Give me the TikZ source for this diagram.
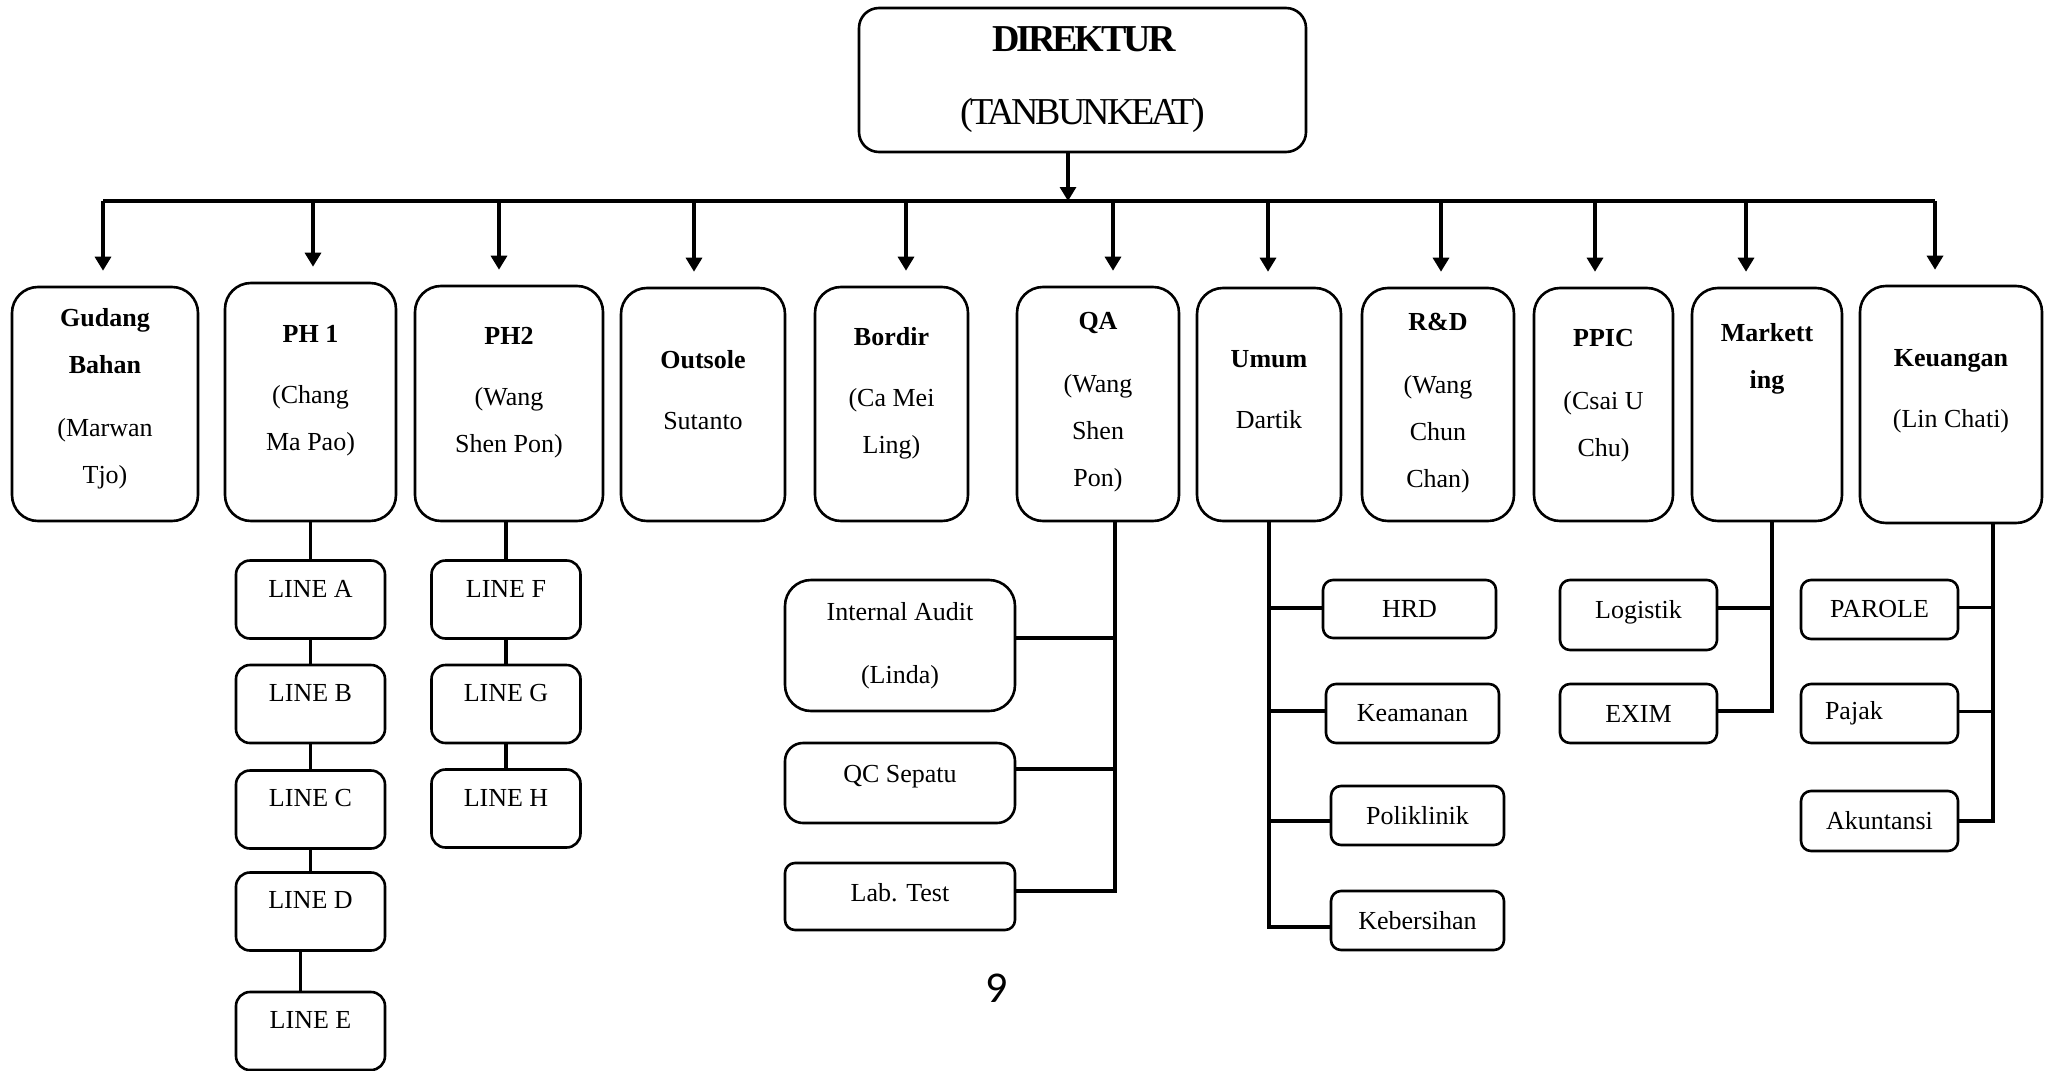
\documentclass[tikz,border=0pt]{standalone}
\usepackage{fontspec}
\setmainfont{Liberation Serif}
\newfontfamily\pagefont{Carlito}
\usetikzlibrary{arrows.meta}

\begin{document}
\begin{tikzpicture}[x=0.5pt, y=-0.5pt]
        \tikzstyle{unit}=[draw, line width=1.3pt, rounded corners=13pt, inner sep=0pt,
            font=\fontsize{13}{23.5}\selectfont, align=center]
        \tikzstyle{sub}=[unit, rounded corners=5pt]
        \tikzstyle{line box}=[unit, rounded corners=7pt, minimum width=74.5pt, minimum height=39pt]
        \tikzstyle{txt}=[font=\fontsize{13}{23.5}\selectfont, align=center, inner sep=0pt]
        \tikzstyle{link}=[line width=1.8pt]
        \tikzstyle{arr}=[line width=1.6pt, -{Triangle[length=7pt,width=8pt]}]

        \useasboundingbox (0,0) rectangle (2054,1070);

        % Draw the director
        \node[unit, rounded corners=10pt, minimum width=223.5pt, minimum height=72pt,
            font=\fontsize{19}{36.5}\selectfont\addfontfeature{LetterSpace=-8}] (dir) at (1082.5,80)
            {\textbf{DIREKTUR}\\(TANBUNKEAT)};

        % Draw the departments
        \node[unit, minimum width=93pt, minimum height=117pt,
            label={[txt,yshift=2.5pt]center:{\textbf{Gudang}\\\textbf{Bahan}\\[8pt](Marwan\\Tjo)}}] (gudang) at (105,404) {};
        \node[unit, minimum width=85.5pt, minimum height=119pt,
            label={[txt,yshift=5.5pt]center:{\textbf{PH 1}\\[7pt](Chang\\Ma Pao)}}] (ph1) at (310.5,402) {};
        \node[unit, minimum width=94pt, minimum height=117.5pt,
            label={[txt,yshift=5.5pt]center:{\textbf{PH2}\\[7pt](Wang\\Shen Pon)}}] (ph2) at (509,403.5) {};
        \node[unit, minimum width=82pt, minimum height=116.5pt,
            label={[txt,yshift=7pt]center:{\textbf{Outsole}\\[7pt]Sutanto}}] (outsole) at (703,404.5) {};
        \node[unit, minimum width=76.5pt, minimum height=117pt,
            label={[txt,yshift=5.5pt]center:{\textbf{Bordir}\\[7pt](Ca Mei\\Ling)}}] (bordir) at (891.5,404) {};
        \node[unit, minimum width=81pt, minimum height=117pt,
            label={[txt,yshift=1pt]center:{\textbf{QA}\\[8pt](Wang\\Shen\\Pon)}}] (qa) at (1098,404) {};
        \node[unit, minimum width=72pt, minimum height=116.5pt,
            label={[txt,yshift=7.5pt]center:{\textbf{Umum}\\[7pt]Dartik}}] (umum) at (1269,404.5) {};
        \node[unit, minimum width=76pt, minimum height=116.5pt,
            label={[txt,yshift=0.5pt]center:{\textbf{R\&D}\\[8pt](Wang\\Chun\\Chan)}}] (rnd) at (1438,404.5) {};
        \node[unit, minimum width=69.5pt, minimum height=116.5pt,
            label={[txt,yshift=4.5pt]center:{\textbf{PPIC}\\[8pt](Csai U\\Chu)}}] (ppic) at (1603.5,404.5) {};
        \node[unit, minimum width=75pt, minimum height=116.5pt,
            label={[txt,yshift=23pt]center:{\textbf{Markett}\\\textbf{ing}}}] (mkt) at (1767,404.5) {};
        \node[unit, minimum width=91pt, minimum height=118.5pt,
            label={[txt,yshift=6.5pt]center:{\textbf{Keuangan}\\[7pt](Lin Chati)}}] (keu) at (1951,404.5) {};

        % Draw the production lines
        \foreach \id/\y in {A/599.5, B/704, C/809.5, D/911.5, E/1031}
            \node[line box, label={[txt,yshift=5.5pt]center:LINE \id}] (L-\id) at (310.5,\y) {};
        \foreach \id/\y in {F/599.5, G/704, H/808.5}
            \node[line box, label={[txt,yshift=5.5pt]center:LINE \id}] (L-\id) at (506,\y) {};

        % Draw the QA units
        \node[unit, minimum width=115pt, minimum height=65.5pt] (ia) at (900,645.5) {Internal Audit\\[8pt](Linda)};
        \node[unit, rounded corners=9pt, minimum width=115pt, minimum height=40pt,
            label={[txt,yshift=3pt]center:QC Sepatu}] (qc) at (900,783) {};
        \node[sub, minimum width=115pt, minimum height=33.5pt,
            label={[txt,yshift=2pt]center:Lab. Test}] (lab) at (900,896.5) {};

        % Draw the general affairs units
        \node[sub, minimum width=86.5pt, minimum height=29pt] (hrd) at (1409.5,609) {HRD};
        \node[sub, minimum width=86.5pt, minimum height=29.5pt] (aman) at (1412.5,713.5) {Keamanan};
        \node[sub, minimum width=86.5pt, minimum height=29.5pt] (poli) at (1417.5,815.5) {Poliklinik};
        \node[sub, minimum width=86.5pt, minimum height=29.5pt] (bersih) at (1417.5,920.5) {Kebersihan};

        % Draw the marketing and finance units
        \node[sub, minimum width=78.5pt, minimum height=35pt,
            label={[txt,yshift=1.5pt]center:Logistik}] (logistik) at (1638.5,615) {};
        \node[sub, minimum width=78.5pt, minimum height=29.5pt] (exim) at (1638.5,713.5) {EXIM};
        \node[sub, minimum width=78.5pt, minimum height=29.5pt] (parole) at (1879.5,609.5) {PAROLE};
        \node[sub, minimum width=78.5pt, minimum height=29.5pt, text width=54.5pt, align=left] (pajak) at (1879.5,713.5) {Pajak};
        \node[sub, minimum width=78.5pt, minimum height=30pt] (akun) at (1879.5,821) {Akuntansi};

        % Connect the director with every department
        \coordinate (bus) at (1068,201);
        \draw[arr] (dir.south -| bus) -- (bus);
        \draw[link, line width=1.6pt] ([xshift=-1pt]gudang.north |- bus) -- ([xshift=-8pt]keu.north |- bus);
        \foreach \dept/\dx in {gudang/-1, ph1/1.25, ph2/-5, outsole/-4.5, bordir/7.25, qa/7.5,
                umum/-0.5, rnd/1.5, ppic/-4.25, mkt/-10.5, keu/-8}
            \draw[arr, shorten >=7.5pt] ([xshift=\dx pt]\dept.north |- bus) -- ([xshift=\dx pt]\dept.north);

        % Connect the production lines
        \foreach \a/\b in {ph1/L-A, L-A/L-B, L-B/L-C, L-C/L-D, ph2/L-F, L-F/L-G, L-G/L-H}
            \draw[link] (\a.south -| \b.north) -- (\b.north);
        \draw[link] ([xshift=-5pt]L-D.south) -- ([xshift=-5pt]L-E.north);

        % Connect the QA units
        \coordinate (qa-l) at ([xshift=8.5pt]qa.south);
        \draw[link] (qa-l) |- ([yshift=2.75pt]lab.east);
        \draw[link] ([yshift=3.75pt]ia.east) -- ([yshift=3.75pt]ia.east -| qa-l);
        \draw[link] ([yshift=7pt]qc.east) -- ([yshift=7pt]qc.east -| qa-l);

        % Connect the general affairs units
        \draw[link] (umum.south) |- ([yshift=-3.25pt]bersih.west);
        \foreach \unit/\dy in {hrd/0.5, aman/1.25, poli/-2.75}
            \draw[link] ([yshift=\dy pt]\unit.west) -- ([yshift=\dy pt]\unit.west -| umum.south);

        % Connect the marketing units
        \coordinate (mkt-l) at ([xshift=2.5pt]mkt.south);
        \draw[link] (mkt-l) |- ([yshift=1.25pt]exim.east);
        \draw[link] ([yshift=3.5pt]logistik.east) -- ([yshift=3.5pt]logistik.east -| mkt-l);

        % Connect the finance units
        \coordinate (keu-l) at ([xshift=21pt]keu.south);
        \draw[link] (keu-l) |- (akun.east);
        \foreach \unit in {parole, pajak}
            \draw[link] ([yshift=1pt]\unit.east) -- ([yshift=1pt]\unit.east -| keu-l);

        % Page number
        \node[font=\pagefont\fontsize{22}{26}\selectfont] (pg) at (997,988) {9};
\end{tikzpicture}
\end{document}
